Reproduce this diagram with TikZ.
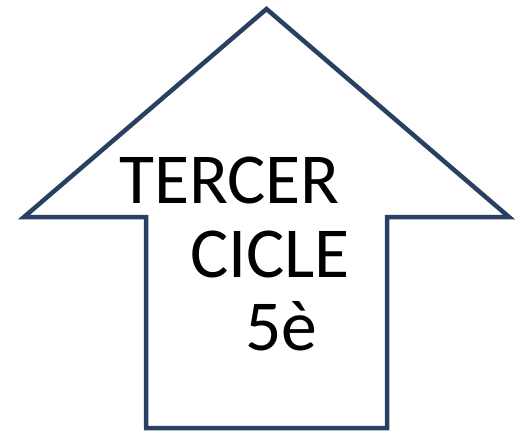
\documentclass[tikz,border=0pt]{standalone}
\usepackage{fontspec}
\setmainfont{Carlito}
\definecolor{arrowblue}{RGB}{40,64,98}
\begin{document}
\begin{tikzpicture}[x=1bp,y=-1bp,
  shapeline/.style={draw=arrowblue,line width=4.5bp,line join=miter},
  label/.style={anchor=base west,inner sep=0pt,font=\fontsize{72}{86}\selectfont,text=black}]
\useasboundingbox (0,0) rectangle (522,432);
\coordinate (tip) at (266.5,9);
\coordinate (lw) at (24,217);
\coordinate (ls) at (146,217);
\coordinate (lb) at (146,428);
\coordinate (rb) at (387,428);
\coordinate (rs) at (387,217);
\coordinate (rw) at (509,217);
\draw[shapeline] (tip) -- (lw) -- (ls) -- (lb) -- (rb) -- (rs) -- (rw) -- cycle;
\node[label] (t1) at (119,203) {TERCER};
\node[label] (t2) at (190,277) {CICLE};
\node[label] (t3) at (245,350) {5è};
\end{tikzpicture}
\end{document}
